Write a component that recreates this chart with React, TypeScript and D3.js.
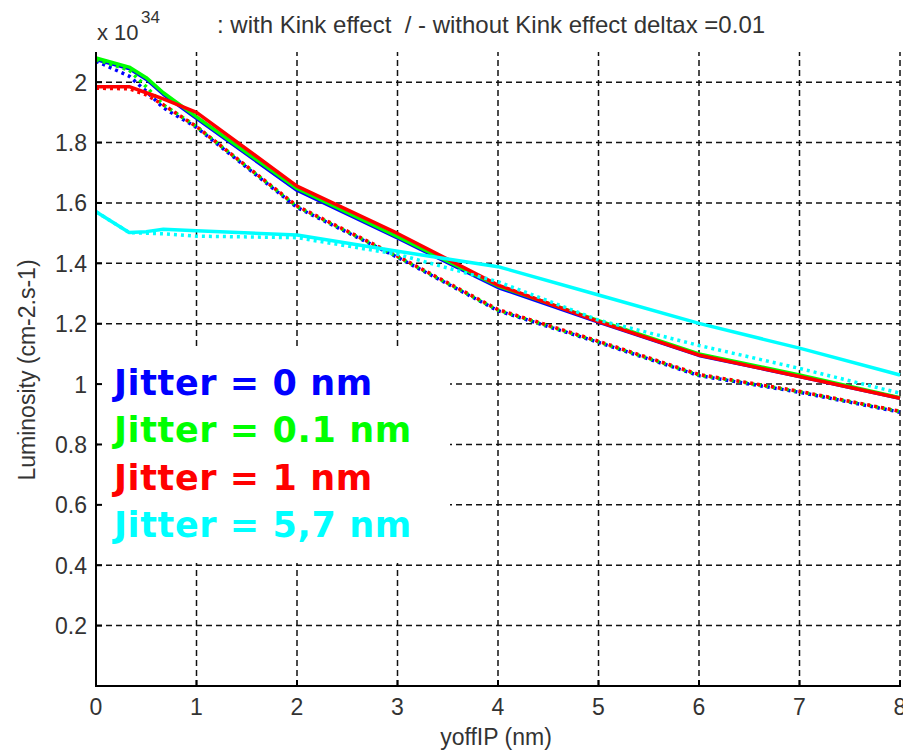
import React from "react";
import * as d3 from "d3";

const xs = [0, 0.33, 0.5, 0.67, 1, 2, 3, 4, 5, 6, 7, 8];

const blueKink = [2.075, 2.045, 2.01, 1.96, 1.88, 1.642, 1.484, 1.32, 1.205, 1.095, 1.025, 0.953];
const greenKink = [2.08, 2.05, 2.015, 1.965, 1.885, 1.648, 1.488, 1.325, 1.21, 1.1, 1.03, 0.955];
const redKink = [1.985, 1.985, 1.965, 1.945, 1.9, 1.656, 1.499, 1.328, 1.207, 1.096, 1.025, 0.953];
const cyanKink = [1.571, 1.502, 1.505, 1.513, 1.508, 1.494, 1.44, 1.389, 1.295, 1.201, 1.119, 1.03];

const blueNoKink = [2.07, 2.02, 1.97, 1.915, 1.85, 1.585, 1.42, 1.243, 1.138, 1.028, 0.973, 0.907];
const greenNoKink = [2.075, 2.04, 1.985, 1.925, 1.853, 1.588, 1.422, 1.245, 1.14, 1.03, 0.975, 0.909];
const redNoKink = [1.98, 1.978, 1.958, 1.925, 1.853, 1.59, 1.424, 1.247, 1.142, 1.032, 0.976, 0.91];
const cyanNoKink = [1.571, 1.502, 1.5, 1.498, 1.49, 1.485, 1.43, 1.339, 1.212, 1.128, 1.052, 0.97];

const xTicks = [0, 1, 2, 3, 4, 5, 6, 7, 8];
const yTicks = [0.2, 0.4, 0.6, 0.8, 1, 1.2, 1.4, 1.6, 1.8, 2];
const yTickLabels = ["0.2", "0.4", "0.6", "0.8", "1", "1.2", "1.4", "1.6", "1.8", "2"];

const legendLabels = ["Jitter = 0 nm", "Jitter = 0.1 nm", "Jitter = 1 nm", "Jitter = 5,7 nm"];
const colors = ["#0000ff", "#00ff00", "#ff0000", "#00ffff"];

const titleText = ": with Kink effect  / - without Kink effect deltax =0.01";
const xLabel = "yoffIP (nm)";
const yLabel = "Luminosity (cm-2.s-1)";

export default function App() {
  const x = d3.scaleLinear().domain([0, 8]).range([96, 900]);
  const y = d3.scaleLinear().domain([0, 2.1]).range([686, 52]);
  const line = d3
    .line<number>()
    .x((_, i) => x(xs[i]))
    .y((d) => y(d));

  const series = [
    { v: blueKink, c: colors[0], dot: false },
    { v: blueNoKink, c: colors[0], dot: true },
    { v: greenKink, c: colors[1], dot: false },
    { v: greenNoKink, c: colors[1], dot: true },
    { v: redKink, c: colors[2], dot: false },
    { v: redNoKink, c: colors[2], dot: true },
    { v: cyanKink, c: colors[3], dot: false },
    { v: cyanNoKink, c: colors[3], dot: true },
  ];

  const font = "Arial, 'Liberation Sans', sans-serif";
  const gridStyle = { stroke: "#111", strokeWidth: 1.5, strokeDasharray: "6,4" };
  const textColor = "#333";

  return (
    <svg
      width={903}
      height={753}
      style={{ position: "absolute", left: 0, top: 0, background: "#fff" }}
      fontFamily={font}
    >
      <rect x={0} y={0} width={903} height={753} fill="#fff" />
      {xTicks.slice(1).map((t) => (
        <line key={"gx" + t} x1={x(t)} x2={x(t)} y1={y(0)} y2={y(2.1)} style={gridStyle} />
      ))}
      {yTicks.map((t) => (
        <line key={"gy" + t} x1={x(0)} x2={x(8)} y1={y(t)} y2={y(t)} style={gridStyle} />
      ))}
      <rect x={98} y={349} width={352} height={214} fill="#fff" />
      {series.map((s, i) => (
        <path
          key={i}
          d={line(s.v) || ""}
          fill="none"
          stroke={s.c}
          strokeWidth={s.dot ? 3.5 : 3.5}
          strokeDasharray={s.dot ? "3,4" : undefined}
          strokeLinejoin="round"
        />
      ))}
      <line x1={x(0)} x2={x(0)} y1={y(0) + 1} y2={y(2.1)} stroke="#000" strokeWidth={2} />
      <line x1={x(0) - 1} x2={x(8) + 1} y1={y(0)} y2={y(0)} stroke="#000" strokeWidth={2} />
      {yTicks.map((t) => (
        <line key={"ty" + t} x1={x(0)} x2={x(0) + 6} y1={y(t)} y2={y(t)} stroke="#000" strokeWidth={2} />
      ))}
      {xTicks.map((t) => (
        <line key={"tx" + t} x1={x(t)} x2={x(t)} y1={y(0)} y2={y(0) - 6} stroke="#000" strokeWidth={2} />
      ))}
      {yTicks.map((t, i) => (
        <text key={"ly" + t} x={87} y={y(t) + 8.5} textAnchor="end" fontSize={23} fill={textColor}>
          {yTickLabels[i]}
        </text>
      ))}
      {xTicks.map((t) => (
        <text key={"lx" + t} x={x(t)} y={715} textAnchor="middle" fontSize={23} fill={textColor}>
          {t}
        </text>
      ))}
      <text x={496} y={745} textAnchor="middle" fontSize={23} fill={textColor}>
        {xLabel}
      </text>
      <text transform="translate(35,370) rotate(-90)" textAnchor="middle" fontSize={23} fill={textColor}>
        {yLabel}
      </text>
      <text x={97} y={40} fontSize={22} fill={textColor}>
        x 10
      </text>
      <text x={141} y={23} fontSize={17} fill={textColor}>
        34
      </text>
      <text x={217} y={33} fontSize={24} fill={textColor} style={{ whiteSpace: "pre" }}>
        {titleText}
      </text>
      {legendLabels.map((l, i) => (
        <text
          key={l}
          x={114}
          y={395 + i * 47.3}
          fontSize={35}
          fontWeight="bold"
          letterSpacing={0.6}
          fontFamily="'DejaVu Sans', Verdana, sans-serif"
          fill={colors[i]}
        >
          {l}
        </text>
      ))}
    </svg>
  );
}
